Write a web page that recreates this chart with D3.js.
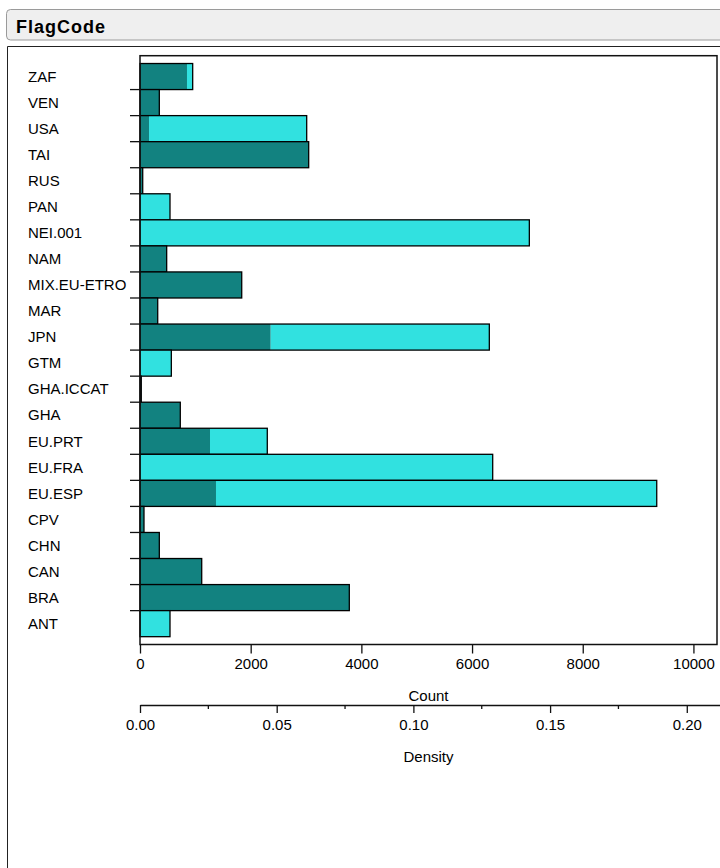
<!DOCTYPE html>
<html>
<head>
<meta charset="utf-8">
<script src="https://d3js.org/d3.v7.min.js"></script>
<style>
  body { margin: 0; background: #fff; }
  svg { display: block; font-family: "Liberation Sans", Arial, sans-serif; }
</style>
</head>
<body>
<script>
// categories, top to bottom as shown
var categories = ["ZAF", "VEN", "USA", "TAI", "RUS", "PAN", "NEI.001", "NAM", "MIX.EU-ETRO",
  "MAR", "JPN", "GTM", "GHA.ICCAT", "GHA", "EU.PRT", "EU.FRA", "EU.ESP", "CPV", "CHN",
  "CAN", "BRA", "ANT"];

// dark teal part of each bar (count)
var darkCounts = [849, 349, 163, 3048, 49, 0, 0, 482, 1838,
  320, 2362, 0, 23, 728, 1265, 0, 1373, 72, 349,
  1115, 3782, 0];

// cyan part stacked after the dark part (count)
var cyanCounts = [103, 0, 2849, 0, 0, 542, 7035, 0, 0,
  0, 3950, 566, 0, 0, 1035, 6373, 7964, 0, 0,
  0, 0, 542];

var countTicks = [0, 2000, 4000, 6000, 8000, 10000];
var densityTicks = [0, 0.05, 0.1, 0.15, 0.2];
var densityMinor = [0.025, 0.075, 0.125, 0.175];
var totalCount = 49400;   // count that makes density = 1
var countMax = 10426;

var W = 720, H = 868;
var plot = {left: 140, right: 717, top: 55.7, bottom: 644.5};

var svg = d3.select("body").append("svg")
    .attr("width", W)
    .attr("height", H);

// title bar
svg.append("rect")
    .attr("x", 6.5).attr("y", 9.5)
    .attr("width", 730).attr("height", 30.5)
    .attr("rx", 4)
    .attr("fill", "#efefef")
    .attr("stroke", "#9a9a9a");

svg.append("text")
    .attr("x", 16).attr("y", 33)
    .style("font-size", "18px")
    .style("font-weight", "bold")
    .style("letter-spacing", "1px")
    .text("FlagCode");

// panel border
svg.append("path")
    .attr("d", "M7.5," + H + "V46.5H" + W)
    .attr("fill", "none")
    .attr("stroke", "#222");

// scales
var x = d3.scaleLinear().domain([0, countMax]).range([plot.left, plot.right]);
var y = d3.scaleBand().domain(categories)
    .range([plot.top, plot.bottom])
    .paddingInner(0).paddingOuter(0.3);

var dens = d3.scaleLinear()
    .domain([0, (720 - plot.left) / (plot.right - plot.left) * countMax / totalCount])
    .range([plot.left, 720]);

var dark = "#128280", cyan = "#31e1e0";

// bars
var bars = svg.append("g");
categories.forEach(function(c, i) {
  var y0 = y(c), bh = y.bandwidth();
  var d = darkCounts[i], cy = cyanCounts[i];
  if (d > 0) {
    bars.append("rect")
      .attr("x", x(0)).attr("y", y0)
      .attr("width", x(d) - x(0)).attr("height", bh)
      .attr("fill", dark);
  }
  if (cy > 0) {
    bars.append("rect")
      .attr("x", x(d)).attr("y", y0)
      .attr("width", x(d + cy) - x(d)).attr("height", bh)
      .attr("fill", cyan);
  }
  bars.append("rect")
    .attr("x", x(0)).attr("y", y0)
    .attr("width", x(d + cy) - x(0)).attr("height", bh)
    .attr("fill", "none")
    .attr("stroke", "#000")
    .attr("stroke-width", 1.3);
});

// plot frame
svg.append("rect")
    .attr("x", plot.left).attr("y", plot.top)
    .attr("width", plot.right - plot.left)
    .attr("height", plot.bottom - plot.top)
    .attr("fill", "none")
    .attr("stroke", "#111")
    .attr("stroke-width", 1.5);

// y ticks at band boundaries
svg.append("g").selectAll("line")
    .data(categories.slice(1))
    .join("line")
    .attr("x1", plot.left - 10).attr("x2", plot.left)
    .attr("y1", function(c) { return y(c); })
    .attr("y2", function(c) { return y(c); })
    .attr("stroke", "#111")
    .attr("stroke-width", 1.3);

// y labels
svg.append("g").selectAll("text")
    .data(categories)
    .join("text")
    .attr("x", 28)
    .attr("y", function(c) { return y(c) + y.bandwidth() / 2; })
    .attr("dy", "0.35em")
    .style("font-size", "15px")
    .text(function(c) { return c; });

// count axis
var gx = svg.append("g")
    .attr("transform", "translate(0," + plot.bottom + ")")
    .call(d3.axisBottom(x).tickValues(countTicks).tickSize(9).tickPadding(5)
      .tickFormat(d3.format("d")));
gx.select(".domain").remove();
gx.selectAll(".tick line").attr("stroke", "#111").attr("stroke-width", 1.3);
gx.selectAll("text").style("font-size", "15px").attr("fill", "#000")
    .style("font-family", "Liberation Sans, Arial, sans-serif");

svg.append("text")
    .attr("x", (plot.left + plot.right) / 2).attr("y", 700.5)
    .attr("text-anchor", "middle")
    .style("font-size", "15px")
    .text("Count");

// density axis
var gd = svg.append("g")
    .attr("transform", "translate(0,705)")
    .call(d3.axisBottom(dens).tickValues(densityTicks).tickSize(8).tickPadding(6)
      .tickSizeOuter(0).tickFormat(d3.format(".2f")));
gd.select(".domain").attr("stroke", "#111").attr("stroke-width", 1.3);
gd.selectAll(".tick line").attr("stroke", "#111").attr("stroke-width", 1.3);
gd.selectAll("text").style("font-size", "15px").attr("fill", "#000")
    .style("font-family", "Liberation Sans, Arial, sans-serif");

svg.append("g").selectAll("line")
    .data(densityMinor)
    .join("line")
    .attr("x1", function(d) { return dens(d); })
    .attr("x2", function(d) { return dens(d); })
    .attr("y1", 705).attr("y2", 709)
    .attr("stroke", "#111")
    .attr("stroke-width", 1.3);

svg.append("text")
    .attr("x", (plot.left + plot.right) / 2).attr("y", 761.5)
    .attr("text-anchor", "middle")
    .style("font-size", "15px")
    .text("Density");
</script>
</body>
</html>
